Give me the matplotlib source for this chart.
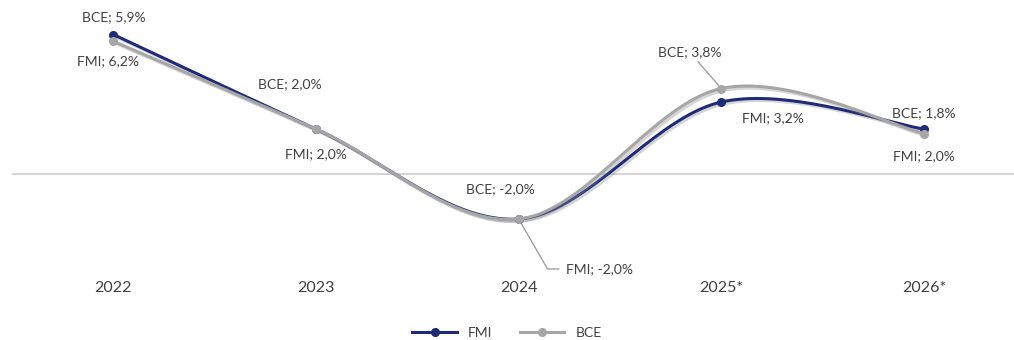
import numpy as np
import matplotlib
matplotlib.use("Agg")
import matplotlib.pyplot as plt
import matplotlib.patheffects as pe
from matplotlib.lines import Line2D

plt.rcParams["font.family"] = ["Lato", "DejaVu Sans"]

categories = ["2022", "2023", "2024", "2025*", "2026*"]
fmi = [6.2, 2.0, -2.0, 3.2, 2.0]
bce = [5.9, 2.0, -2.0, 3.8, 1.8]

# label text as printed on the chart
bce_labels = ["BCE; 5,9%", "BCE; 2,0%", "BCE; -2,0%", "BCE; 3,8%", "BCE; 1,8%"]
fmi_labels = ["FMI; 6,2%", "FMI; 2,0%", "FMI; -2,0%", "FMI; 3,2%", "FMI; 2,0%"]

NAVY = "#1f2a78"
GREY = "#a6a6a6"
TXT = "#404040"


def smooth(y, n=40):
    # Excel-like smoothed line (Catmull-Rom bezier)
    x = np.arange(len(y), dtype=float)
    y = np.asarray(y, dtype=float)
    px = np.concatenate([[x[0]], x, [x[-1]]])
    py = np.concatenate([[y[0]], y, [y[-1]]])
    xs, ys = [], []
    t = np.linspace(0, 1, n)
    for i in range(1, len(px) - 2):
        p0 = np.array([px[i], py[i]])
        p3 = np.array([px[i + 1], py[i + 1]])
        p1 = p0 + (np.array([px[i + 1], py[i + 1]]) - np.array([px[i - 1], py[i - 1]])) / 6
        p2 = p3 - (np.array([px[i + 2], py[i + 2]]) - np.array([px[i], py[i]])) / 6
        b = ((1 - t) ** 3)[:, None] * p0 + (3 * (1 - t) ** 2 * t)[:, None] * p1 \
            + (3 * (1 - t) * t ** 2)[:, None] * p2 + (t ** 3)[:, None] * p3
        xs.append(b[:, 0])
        ys.append(b[:, 1])
    return np.concatenate(xs), np.concatenate(ys)


fig = plt.figure(figsize=(10.14, 3.4), dpi=100)
W, H = 1014, 340
top, bottom = 10, 275
ax = fig.add_axes([12 / W, 1 - bottom / H, (W - 12) / W, (bottom - top) / H])
scale = 22.5
ax.set_ylim(-(bottom - 174) / scale, (174 - top) / scale)
ax.set_xlim(-0.5, (W - 113) / 202.75)
ax.axis("off")
ax.axhline(0, color="#d0d0d0", lw=1.3, zorder=1)

shadow = [pe.SimpleLineShadow(offset=(1.5, -1.5), shadow_color="#888888", alpha=0.35), pe.Normal()]
x = np.arange(len(categories))
for vals, col, z in [(fmi, NAVY, 3), (bce, GREY, 4)]:
    sx, sy = smooth(vals)
    ax.plot(sx, sy, color=col, lw=2.2, zorder=z, path_effects=shadow, solid_capstyle="round")
    ax.plot(x, vals, "o", ms=5.5, color=col, mec=col, zorder=z + 0.5)

fs = 10
lead = dict(arrowstyle="-", color="#a0a0a0", lw=1, shrinkA=1, shrinkB=3)
# BCE labels (upper)
ax.annotate(bce_labels[0], (0, fmi[0]), xytext=(0, 8), textcoords="offset points",
            ha="center", va="bottom", fontsize=fs, color=TXT)
ax.annotate(bce_labels[1], (1, bce[1]), xytext=(-19, 28), textcoords="offset points",
            ha="center", va="bottom", fontsize=fs, color=TXT)
ax.annotate(bce_labels[2], (2, bce[2]), xytext=(-13, 17), textcoords="offset points",
            ha="center", va="bottom", fontsize=fs, color=TXT)
ax.annotate(bce_labels[3], (3, bce[3]), xytext=(-23, 22), textcoords="offset points",
            ha="center", va="bottom", fontsize=fs, color=TXT, arrowprops=lead)
ax.annotate(bce_labels[4], (4, bce[4]), xytext=(0, 10), textcoords="offset points",
            ha="center", va="bottom", fontsize=fs, color=TXT)
# FMI labels (lower)
ax.annotate(fmi_labels[0], (0, bce[0]), xytext=(-4, -10), textcoords="offset points",
            ha="center", va="top", fontsize=fs, color=TXT)
ax.annotate(fmi_labels[1], (1, fmi[1]), xytext=(0, -14), textcoords="offset points",
            ha="center", va="top", fontsize=fs, color=TXT)
ax.annotate(fmi_labels[2], (2, fmi[2]), xytext=(34, -36), textcoords="offset points",
            ha="left", va="center", fontsize=fs, color=TXT,
            arrowprops=dict(arrowstyle="-", color="#a0a0a0", lw=1, shrinkA=3, shrinkB=3,
                            connectionstyle="angle,angleA=0,angleB=-60,rad=0"))
ax.annotate(fmi_labels[3], (3, fmi[3]), xytext=(15, -7), textcoords="offset points",
            ha="left", va="top", fontsize=fs, color=TXT)
ax.annotate(fmi_labels[4], (4, bce[4]), xytext=(0, -12), textcoords="offset points",
            ha="center", va="top", fontsize=fs, color=TXT)

# category labels
for i, c in enumerate(categories):
    fig.text((113 + i * 202.75) / W, 1 - 288 / H, c, ha="center", va="center",
             fontsize=11.5, color=TXT)

# legend
handles = [Line2D([], [], color=NAVY, lw=2.2, marker="o", ms=5.5),
           Line2D([], [], color=GREY, lw=2.2, marker="o", ms=5.5)]
fig.legend(handles, ["FMI", "BCE"], loc="center", bbox_to_anchor=(0.5, 1 - 333 / H),
           ncol=2, frameon=False, fontsize=10, handlelength=3.2, columnspacing=2,
           labelcolor=TXT)

fig.savefig("out.png", dpi=100)
